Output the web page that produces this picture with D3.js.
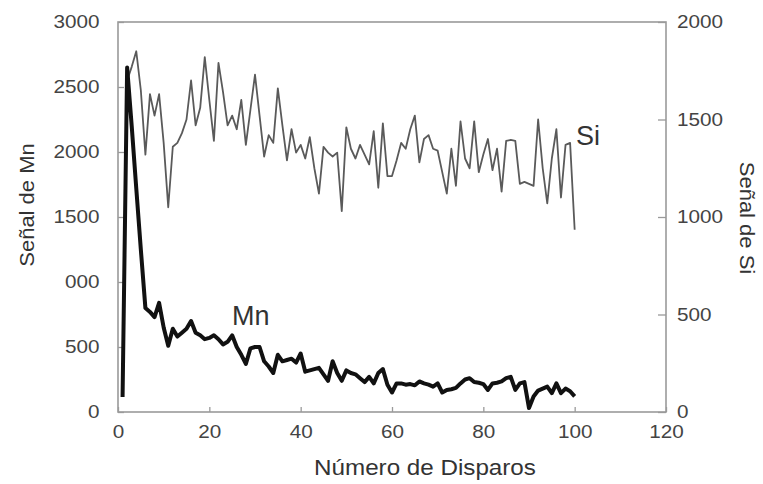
<!DOCTYPE html>
<html>
<head>
<meta charset="utf-8">
<script src="https://cdn.jsdelivr.net/npm/d3@7"></script>
<style>
  body { margin: 0; background: #fff; }
  text { font-family: "Liberation Sans", Arial, sans-serif; }
</style>
</head>
<body>
<div id="chart"></div>
<script>
// shot number 1..100
var shots = d3.range(1, 101)

// Mn signal (left axis)
var mnSignal = [
  115, 2650, 2200, 1720, 1250, 800, 770, 730, 840, 650,
  510, 640, 580, 610, 640, 700, 610, 590, 560, 570,
  590, 560, 520, 540, 590, 500, 440, 370, 490, 500,
  500, 390, 350, 300, 440, 390, 400, 410, 380, 450,
  310, 320, 330, 340, 290, 240, 390, 300, 240, 320,
  300, 290, 260, 230, 270, 220, 300, 330, 210, 150,
  220, 220, 210, 215, 205, 235, 220, 210, 195, 220,
  150, 170, 175, 185, 220, 250, 260, 230, 225, 215,
  170, 220, 225, 235, 260, 270, 170, 220, 230, 30,
  120, 165, 180, 195, 145, 220, 145, 180, 160, 120
]

// Si signal (right axis), first shot hidden under the Mn peak
var siSignal = [
  null, 1700, 1770, 1850, 1650, 1320, 1630, 1520, 1630, 1380,
  1050, 1360, 1380, 1430, 1500, 1700, 1470, 1560, 1820, 1600,
  1390, 1790, 1640, 1470, 1520, 1450, 1600, 1370, 1550, 1730,
  1520, 1310, 1420, 1380, 1660, 1470, 1290, 1450, 1330, 1370,
  1300, 1410, 1250, 1120, 1360, 1330, 1310, 1330, 1030, 1460,
  1350, 1300, 1370, 1320, 1270, 1440, 1150, 1480, 1210, 1210,
  1290, 1380, 1350, 1450, 1520, 1280, 1400, 1420, 1350, 1340,
  1230, 1120, 1350, 1160, 1490, 1300, 1250, 1490, 1230, 1320,
  1400, 1240, 1350, 1130, 1390, 1395, 1390, 1170, 1180, 1170,
  1160, 1500, 1250, 1070, 1300, 1450, 1100, 1370, 1380, 935
]

var xTicks = [0, 20, 40, 60, 80, 100, 120]
var mnTicks = [0, 500, 1000, 1500, 2000, 2500, 3000]
var mnTickLabels = ["0", "500", "000", "1500", "2000", "2500", "3000"]
var siTicks = [0, 500, 1000, 1500, 2000]

var width = 763, height = 484
var plotL = 118, plotR = 666, plotT = 22, plotB = 412
var axisColor = "#9a9a9a", textColor = "#444"

var svg = d3.select("#chart").append("svg")
    .attr("width", width)
    .attr("height", height)

var x = d3.scaleLinear().domain([0, 120]).range([plotL, plotR])
var yMn = d3.scaleLinear().domain([0, 3000]).range([plotB, plotT])
var ySi = d3.scaleLinear().domain([0, 2000]).range([plotB, plotT])

// frame
svg.append("rect")
    .attr("x", plotL).attr("y", plotT)
    .attr("width", plotR - plotL).attr("height", plotB - plotT)
    .attr("fill", "none")
    .attr("stroke", axisColor)
    .attr("stroke-width", 1.6)

// tick labels in the picture are a little wide, so stretch them
function styleAxis(g) {
    g.select(".domain").remove()
    g.selectAll(".tick line").attr("stroke", axisColor).attr("stroke-width", 1.3)
    g.selectAll(".tick text")
        .attr("fill", textColor)
        .attr("transform", "scale(1.15,1)")
        .style("font-size", "18px")
}

svg.append("g")
    .attr("transform", "translate(0," + plotB + ")")
    .call(d3.axisBottom(x).tickValues(xTicks).tickSize(-5).tickPadding(13).tickFormat(d3.format("d")))
    .call(styleAxis)

svg.append("g")
    .attr("transform", "translate(" + plotL + ",0)")
    .call(d3.axisLeft(yMn).tickValues(mnTicks).tickSize(-6).tickPadding(16)
        .tickFormat(function (d, i) { return mnTickLabels[i] }))
    .call(styleAxis)

svg.append("g")
    .attr("transform", "translate(" + plotR + ",0)")
    .call(d3.axisRight(ySi).tickValues(siTicks).tickSize(-8).tickPadding(9.5).tickFormat(d3.format("d")))
    .call(styleAxis)

// lines
var siLine = d3.line()
    .defined(function (d) { return d != null })
    .x(function (d, i) { return x(shots[i]) })
    .y(function (d) { return ySi(d) })

var mnLine = d3.line()
    .x(function (d, i) { return x(shots[i]) })
    .y(function (d) { return yMn(d) })

svg.append("path")
    .datum(siSignal)
    .attr("d", siLine)
    .attr("fill", "none")
    .attr("stroke", "#5a5a5a")
    .attr("stroke-width", 1.8)
    .attr("stroke-linejoin", "round")

svg.append("path")
    .datum(mnSignal)
    .attr("d", mnLine)
    .attr("fill", "none")
    .attr("stroke", "#111")
    .attr("stroke-width", 4)
    .attr("stroke-linejoin", "round")

// series labels
svg.append("text")
    .attr("x", 576).attr("y", 145)
    .attr("fill", "#333")
    .style("font-size", "27px")
    .text("Si")

svg.append("text")
    .attr("x", 232).attr("y", 325)
    .attr("fill", "#333")
    .style("font-size", "27px")
    .text("Mn")

// axis titles
svg.append("text")
    .attr("transform", "translate(34,205) rotate(-90) scale(1.1,1)")
    .attr("text-anchor", "middle")
    .attr("fill", "#333")
    .style("font-size", "20px")
    .text("Señal de Mn")

svg.append("text")
    .attr("transform", "translate(740,218) rotate(90) scale(1.1,1)")
    .attr("text-anchor", "middle")
    .attr("fill", "#333")
    .style("font-size", "20px")
    .text("Señal de Si")

svg.append("text")
    .attr("transform", "translate(425,475) scale(1.1,1)")
    .attr("text-anchor", "middle")
    .attr("fill", "#333")
    .style("font-size", "22px")
    .text("Número de Disparos")
</script>
</body>
</html>
